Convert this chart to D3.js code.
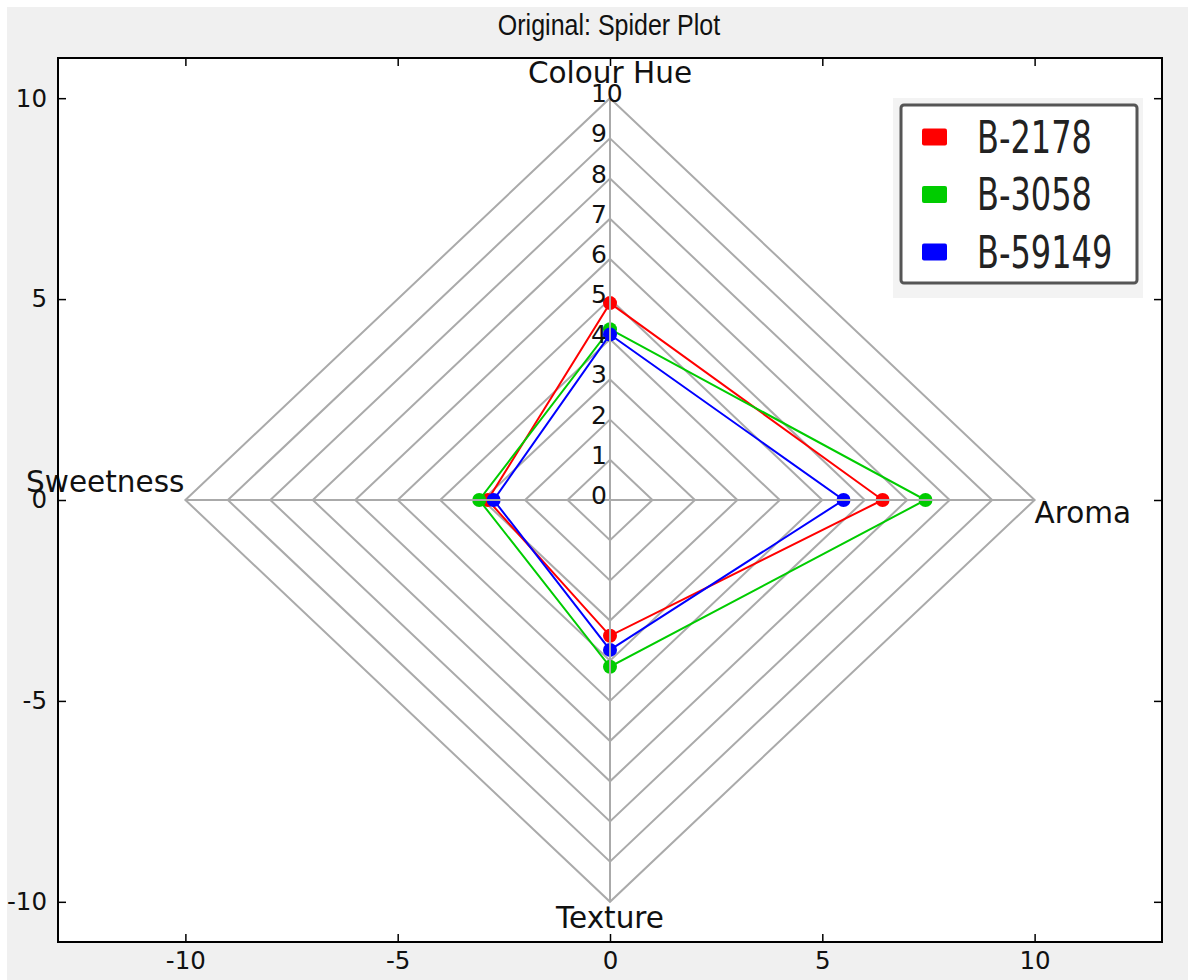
<!DOCTYPE html>
<html>
<head>
<meta charset="utf-8">
<script src="https://cdn.jsdelivr.net/npm/d3@7"></script>
<style>
  body { margin: 0; background: #fff; }
  text { font-family: "DejaVu Sans", sans-serif; fill: #111; }
</style>
</head>
<body>
<div id="spider"></div>
<script>
// spokes: name and direction on the plane
var spokes = ["Colour Hue", "Aroma", "Texture", "Sweetness"];
var spokeDir = [[0, 1], [1, 0], [0, -1], [-1, 0]];

// series values, one per spoke (same order as spokes)
var seriesNames = ["B-2178", "B-3058", "B-59149"];
var seriesColors = ["#ff0000", "#00cc00", "#0000ff"];
var valsB2178 = [4.9, 6.42, 3.38, 2.88];
var valsB3058 = [4.25, 7.43, 4.15, 3.08];
var valsB59149 = [4.12, 5.5, 3.73, 2.74];
var seriesValues = [valsB2178, valsB3058, valsB59149];

var rings = [1, 2, 3, 4, 5, 6, 7, 8, 9, 10];
var ringLabels = [0, 1, 2, 3, 4, 5, 6, 7, 8, 9, 10];
var xTicks = [-10, -5, 0, 5, 10];
var yTicks = [-10, -5, 0, 5, 10];

const W = 1188, H = 980;
const margin = { top: 58, right: 26, bottom: 38, left: 58 };

var svg = d3.select("#spider").append("svg")
  .attr("width", W)
  .attr("height", H);

// figure background
svg.append("rect").attr("x", 7).attr("y", 7).attr("width", W - 7).attr("height", H - 7)
  .style("fill", "#f0f0f0");

var x = d3.scaleLinear().domain([-13, 13]).range([margin.left, W - margin.right]);
var y = d3.scaleLinear().domain([-11, 11]).range([H - margin.bottom, margin.top]);

// axes area
svg.append("rect")
  .attr("x", x(-13)).attr("y", y(11))
  .attr("width", x(13) - x(-13)).attr("height", y(-11) - y(11))
  .style("fill", "#fff");

var grid = svg.append("g");
var line = d3.line().x(function(d) { return x(d[0]); }).y(function(d) { return y(d[1]); });

// diamond rings
grid.selectAll(".ring")
  .data(rings).enter()
  .append("path")
  .attr("class", "ring")
  .attr("d", function(r) {
    return line(spokeDir.map(function(p) { return [p[0] * r, p[1] * r]; })) + "Z";
  })
  .style("fill", "none")
  .style("stroke", "#aaaaaa")
  .style("stroke-width", 2);

// series polygons
var plot = svg.append("g");
seriesValues.forEach(function(vals, s) {
  var pts = vals.map(function(v, i) { return [spokeDir[i][0] * v, spokeDir[i][1] * v]; });
  plot.append("path")
    .attr("d", line(pts) + "Z")
    .style("fill", "none")
    .style("stroke", seriesColors[s])
    .style("stroke-width", 2);
  plot.selectAll(".dot" + s)
    .data(pts).enter()
    .append("circle")
    .attr("cx", function(d) { return x(d[0]); })
    .attr("cy", function(d) { return y(d[1]); })
    .attr("r", 7)
    .style("fill", seriesColors[s]);
});

// spokes on top
svg.append("g").selectAll("line")
  .data(spokeDir).enter()
  .append("line")
  .attr("x1", x(0)).attr("y1", y(0))
  .attr("x2", function(d) { return x(d[0] * 10); })
  .attr("y2", function(d) { return y(d[1] * 10); })
  .style("stroke", "#aaaaaa")
  .style("stroke-width", 2);

// ring labels along the top spoke
svg.append("g").selectAll("text")
  .data(ringLabels).enter()
  .append("text")
  .attr("x", x(-0.45))
  .attr("y", function(d) { return y(d) + 4; })
  .style("font-size", "25px")
  .text(function(d) { return d; });

// spoke labels
var lab = svg.append("g").style("font-size", "29.5px");
lab.append("text").attr("x", x(0)).attr("y", 83).attr("text-anchor", "middle").text(spokes[0]);
lab.append("text").attr("x", x(10)).attr("y", 523).text(spokes[1]);
lab.append("text").attr("x", x(0)).attr("y", 928).attr("text-anchor", "middle").text(spokes[2]);
lab.append("text").attr("x", x(-10) - 1).attr("y", 492).attr("text-anchor", "end").text(spokes[3]);

// axes with inward ticks
function styleAxis(g) {
  g.select(".domain").remove();
  g.selectAll(".tick line").style("stroke", "#000").style("stroke-width", 1.5);
  g.selectAll(".tick text").style("font-family", "DejaVu Sans").style("font-size", "24.5px").style("fill", "#111");
}
var plain = function(d) { return String(d); };
svg.append("g").attr("transform", "translate(0," + y(-11) + ")")
  .call(d3.axisBottom(x).tickValues(xTicks).tickFormat(plain).tickSizeInner(-8).tickSizeOuter(0).tickPadding(10))
  .call(styleAxis);
svg.append("g").attr("transform", "translate(0," + y(11) + ")")
  .call(d3.axisTop(x).tickValues(xTicks).tickSizeInner(-8).tickSizeOuter(0).tickFormat(""))
  .call(styleAxis);
svg.append("g").attr("transform", "translate(" + x(-13) + ",0)")
  .call(d3.axisLeft(y).tickValues(yTicks).tickFormat(plain).tickSizeInner(-8).tickSizeOuter(0).tickPadding(11))
  .call(styleAxis);
svg.append("g").attr("transform", "translate(" + x(13) + ",0)")
  .call(d3.axisRight(y).tickValues(yTicks).tickSizeInner(-8).tickSizeOuter(0).tickFormat(""))
  .call(styleAxis);

// frame
svg.append("rect")
  .attr("x", x(-13)).attr("y", y(11))
  .attr("width", x(13) - x(-13)).attr("height", y(-11) - y(11))
  .style("fill", "none").style("stroke", "#000").style("stroke-width", 2);

// title
svg.append("text")
  .attr("transform", "translate(609,35) scale(1,1.2)")
  .attr("text-anchor", "middle")
  .style("font-family", "Liberation Sans, Arial, sans-serif")
  .style("font-size", "25px")
  .text("Original: Spider Plot");

// legend
var leg = svg.append("g");
leg.append("rect").attr("x", 893).attr("y", 98).attr("width", 250).attr("height", 200)
  .style("fill", "#f3f3f3");
leg.append("rect").attr("x", 901).attr("y", 105).attr("width", 236).attr("height", 178)
  .attr("rx", 3)
  .style("fill", "#fff").style("stroke", "#555").style("stroke-width", 3);
var rowY = d3.scalePoint().domain(seriesNames).range([137, 252]);
seriesNames.forEach(function(n, i) {
  leg.append("rect").attr("x", 922).attr("y", rowY(n) - 8.5).attr("width", 25).attr("height", 17)
    .attr("rx", 2)
    .style("fill", seriesColors[i]);
  leg.append("text")
    .attr("transform", "translate(977," + rowY(n) + ") scale(1,1.38)")
    .attr("y", 11.5)
    .style("font-size", "32px")
    .style("fill", "#222")
    .text(n);
});
</script>
</body>
</html>
